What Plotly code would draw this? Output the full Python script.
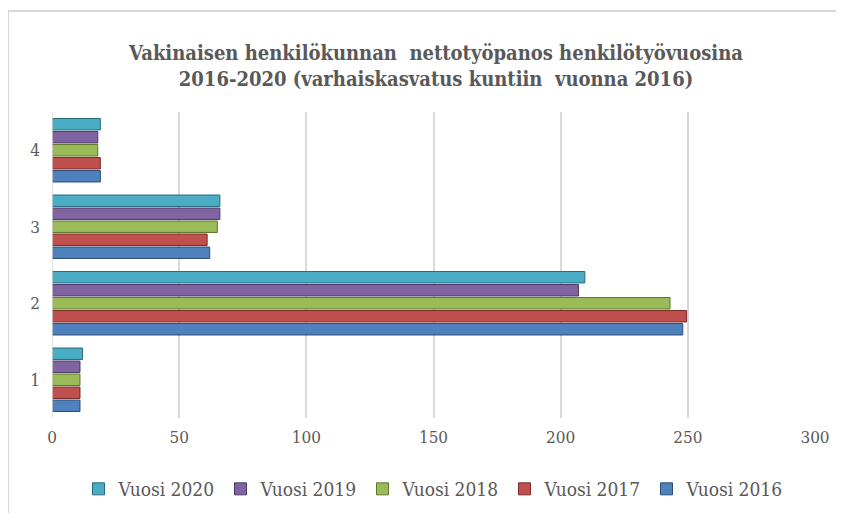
import plotly.graph_objects as go

categories = ["1", "2", "3", "4"]
series_names = ["Vuosi 2016", "Vuosi 2017", "Vuosi 2018", "Vuosi 2019", "Vuosi 2020"]
v2016 = [11, 248, 62, 19]
v2017 = [11, 249.5, 61, 19]
v2018 = [11, 243, 65, 18]
v2019 = [11, 207, 66, 18]
v2020 = [12, 209.5, 66, 19]
values = [v2016, v2017, v2018, v2019, v2020]
colors = ["#4f81bd", "#c0504d", "#9bbb59", "#8064a2", "#4bacc6"]
edge = ["#2c4d75", "#772c2a", "#5f7530", "#4d3b62", "#276a7c"]
x_ticks = [0, 50, 100, 150, 200, 250, 300]

fig = go.Figure()
for name, vals, c, e in zip(series_names, values, colors, edge):
    fig.add_trace(go.Bar(
        y=categories, x=vals, name=name, orientation="h",
        marker=dict(color=c, line=dict(color=e, width=1)),
    ))

ff = "DejaVu Serif Condensed, DejaVu Serif"
W, H = 836, 505
fig.update_layout(
    width=W, height=H,
    margin=dict(l=44, r=29, t=104, b=95, autoexpand=False),
    paper_bgcolor="white", plot_bgcolor="white",
    barmode="group", bargap=0.15, bargroupgap=0.12,
    title=dict(
        text="Vakinaisen henkilökunnan  nettotyöpanos henkilötyövuosina<br>2016-2020 (varhaiskasvatus kuntiin  vuonna 2016)",
        x=428 / W, xanchor="center", xref="container",
        y=1 - 52 / H, yanchor="middle", yref="container",
        font=dict(family=ff, size=20, color="#595959", weight="bold"),
    ),
    xaxis=dict(
        range=[0, 300], tickvals=x_ticks, showgrid=True, gridcolor="#d9d9d9",
        gridwidth=1.5, zeroline=False, showline=False, ticks="",
        tickfont=dict(family=ff, size=17, color="#595959"),
        ticklabelstandoff=7, automargin=False,
    ),
    yaxis=dict(
        categoryorder="array", categoryarray=categories, range=[-0.5, 3.5],
        showgrid=False, zeroline=False, showline=False, ticks="",
        tickfont=dict(family=ff, size=17, color="#595959"),
        ticklabelstandoff=11, automargin=False,
    ),
    legend=dict(
        orientation="h", x=0.5, xanchor="center", y=-0.232, yanchor="middle",
        traceorder="reversed",
        font=dict(family=ff, size=19, color="#595959"),
        itemwidth=30, entrywidth=97,
    ),
    showlegend=True,
    shapes=[
        dict(type="line", xref="paper", yref="paper", x0=-0.0577, x1=1.05,
             y0=1.33, y1=1.33, line=dict(color="#d9d9d9", width=2)),
        dict(type="line", xref="paper", yref="paper", x0=-0.0577, x1=-0.0577,
             y0=1.33, y1=-0.32, line=dict(color="#d9d9d9", width=2)),
        dict(type="line", xref="x", yref="paper", x0=0, x1=0,
             y0=0, y1=1, line=dict(color="#d9d9d9", width=1.5)),
    ],
)

fig.write_html("out.html")
